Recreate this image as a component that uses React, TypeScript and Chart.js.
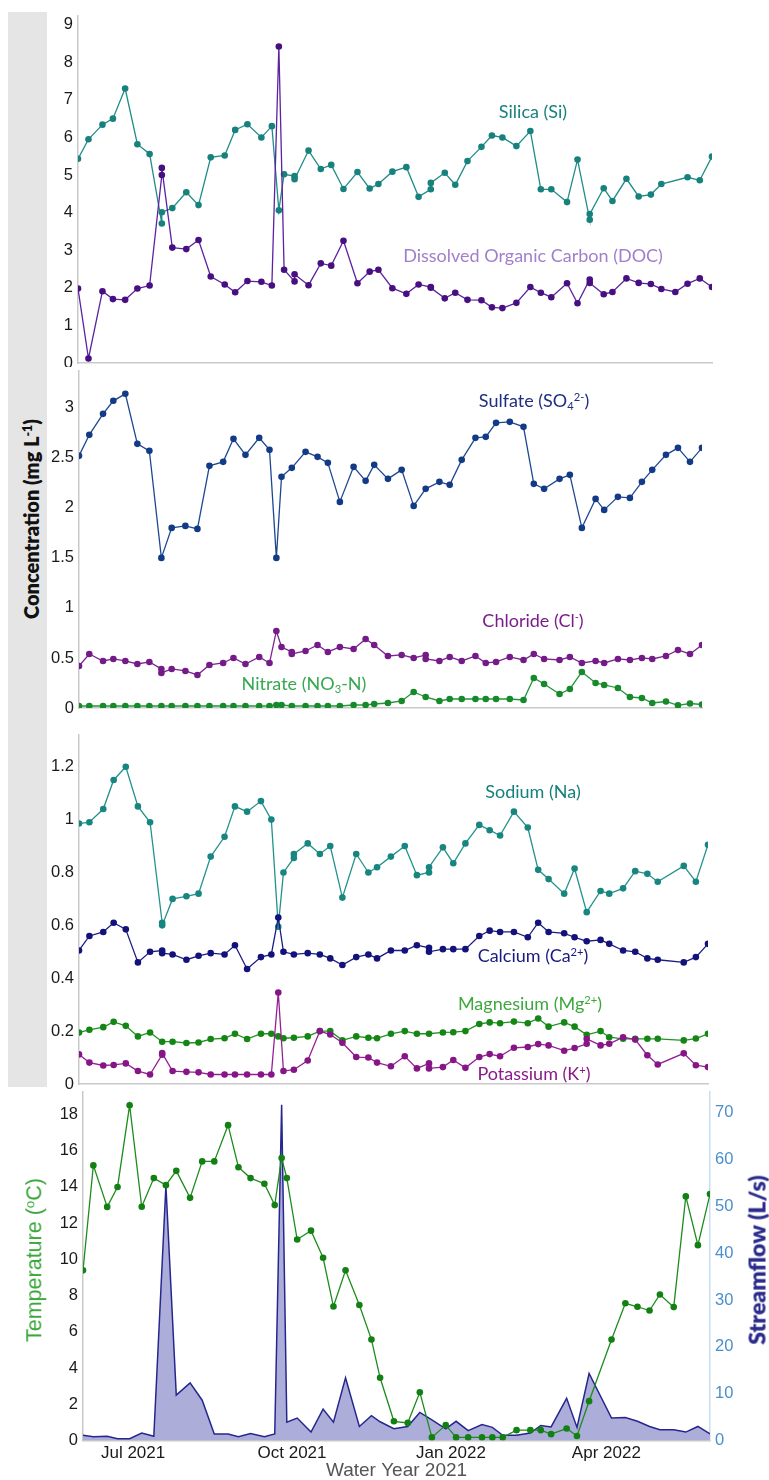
import React, { useEffect, useRef } from 'react';
import { Chart, registerables } from 'chart.js';

Chart.register(...registerables);

// ---------- shared sampling dates (days after 1 Jun 2021; repeated days = replicate samples) ----------
const sampleDays = [1, 7, 15, 21, 28, 35, 42, 49, 49, 55, 63, 70, 77, 85, 91, 98, 106, 112, 116, 119, 125, 125, 133, 140, 146, 153, 161, 168, 173, 181, 189, 196, 203, 203, 211, 217, 224, 232, 238, 244, 252, 260, 266, 272, 281, 287, 294, 294, 302, 307, 315, 322, 329, 335, 343, 350, 357, 364];

// ---------- panel 1 ----------
const silica = [5.43, 5.95, 6.34, 6.5, 7.3, 5.82, 5.56, 3.71, 4.01, 4.12, 4.54, 4.2, 5.47, 5.52, 6.2, 6.35, 6.0, 6.3, 4.06, 5.02, 4.97, 4.89, 5.65, 5.16, 5.27, 4.63, 5.08, 4.64, 4.76, 5.09, 5.21, 4.42, 4.62, 4.79, 5.06, 4.74, 5.37, 5.75, 6.05, 6.0, 5.77, 6.17, 4.62, 4.62, 4.28, 5.41, 3.81, 3.96, 4.65, 4.31, 4.9, 4.43, 4.48, 4.76, null, 4.94, 4.86, 5.49];
const doc = [1.98, 0.12, 1.91, 1.7, 1.68, 1.98, 2.06, 5.0, 5.19, 3.07, 3.03, 3.27, 2.3, 2.09, 1.88, 2.18, 2.16, 2.06, 8.42, 2.48, 2.17, 2.36, 2.07, 2.65, 2.59, 3.25, 2.12, 2.43, 2.48, 1.99, 1.84, 2.09, 2.02, 2.0, 1.72, 1.87, 1.68, 1.67, 1.48, 1.46, 1.6, 2.02, 1.87, 1.75, 2.12, 1.59, 2.22, 2.13, 1.83, 1.89, 2.25, 2.13, 2.1, 1.97, 1.89, 2.11, 2.25, 2.02];

// ---------- panel 2 ----------
const sulfate = [2.52, 2.73, 2.94, 3.07, 3.14, 2.64, 2.57, 1.5, null, 1.8, 1.82, 1.79, 2.42, 2.46, 2.69, 2.53, 2.7, 2.58, 1.5, 2.31, 2.4, null, 2.56, 2.51, 2.45, 2.06, 2.41, 2.27, 2.43, 2.29, 2.38, 2.02, 2.19, null, 2.26, 2.23, 2.48, 2.7, 2.71, 2.85, 2.86, 2.81, 2.24, 2.19, 2.29, 2.33, 1.8, null, 2.09, 1.98, 2.11, 2.1, 2.26, 2.38, 2.53, 2.6, 2.46, 2.6];
const chloride = [0.42, 0.54, 0.47, 0.49, 0.47, 0.44, 0.46, 0.39, 0.35, 0.39, 0.37, 0.33, 0.43, 0.45, 0.5, 0.44, 0.51, 0.45, 0.77, 0.61, 0.56, 0.54, 0.57, 0.63, 0.56, 0.61, 0.59, 0.69, 0.63, 0.52, 0.53, 0.5, 0.53, 0.49, 0.47, 0.51, 0.47, 0.52, 0.45, 0.46, 0.51, 0.48, 0.54, 0.49, 0.48, 0.51, 0.45, null, 0.47, 0.45, 0.49, 0.48, 0.5, 0.49, 0.52, 0.58, 0.54, 0.63];
const nitrate = [0.02, 0.02, 0.02, 0.02, 0.02, 0.02, 0.02, 0.02, null, 0.02, 0.02, 0.02, 0.02, 0.02, 0.02, 0.02, 0.02, 0.02, 0.03, 0.03, 0.02, null, 0.02, 0.02, 0.02, 0.02, 0.03, 0.03, 0.04, 0.05, 0.07, 0.16, 0.11, null, 0.07, 0.09, 0.09, 0.09, 0.09, 0.09, 0.09, 0.08, 0.3, 0.24, 0.14, 0.19, 0.36, null, 0.25, 0.23, 0.2, 0.11, 0.1, 0.05, 0.065, 0.026, 0.045, 0.035];

// ---------- panel 3 ----------
const sodium = [0.985, 0.99, 1.04, 1.15, 1.2, 1.05, 0.99, 0.61, 0.6, 0.7, 0.71, 0.72, 0.86, 0.935, 1.05, 1.03, 1.07, 1.0, 0.595, 0.8, 0.855, 0.87, 0.91, 0.87, 0.9, 0.705, 0.87, 0.8, 0.82, 0.86, 0.9, 0.79, 0.8, 0.82, 0.895, 0.835, 0.91, 0.98, 0.96, 0.94, 1.03, 0.97, 0.81, 0.775, 0.72, 0.815, 0.65, null, 0.73, 0.72, 0.74, 0.805, 0.795, 0.765, null, 0.825, 0.765, 0.905];
const calcium = [0.505, 0.56, 0.575, 0.61, 0.585, 0.46, 0.5, 0.505, 0.495, 0.49, 0.47, 0.485, 0.495, 0.49, 0.525, 0.435, 0.48, 0.49, 0.63, 0.5, 0.49, null, 0.495, 0.49, 0.475, 0.45, 0.48, 0.49, 0.475, 0.505, 0.505, 0.525, 0.515, 0.5, 0.51, 0.51, 0.51, 0.56, 0.58, 0.575, 0.575, 0.555, 0.61, 0.575, 0.57, 0.555, 0.54, null, 0.545, 0.53, 0.505, 0.5, 0.475, 0.47, null, 0.46, 0.48, 0.53];
const magnesium = [0.195, 0.205, 0.215, 0.235, 0.22, 0.18, 0.195, 0.16, null, 0.16, 0.155, 0.157, 0.17, 0.173, 0.19, 0.17, 0.19, 0.19, 0.18, 0.173, 0.175, null, 0.18, 0.2, 0.2, 0.165, 0.18, 0.175, 0.173, 0.19, 0.2, 0.19, 0.19, null, 0.195, 0.196, 0.2, 0.227, 0.233, 0.23, 0.236, 0.23, 0.248, 0.217, 0.233, 0.217, 0.186, null, 0.2, 0.177, 0.171, 0.171, 0.171, 0.171, null, 0.165, 0.172, 0.19];
const potassium = [0.112, 0.081, 0.07, 0.072, 0.078, 0.049, 0.036, 0.111, 0.117, 0.049, 0.046, 0.044, 0.036, 0.036, 0.036, 0.036, 0.036, 0.036, 0.346, 0.049, 0.054, null, 0.089, 0.2, 0.187, 0.156, 0.102, 0.1, 0.081, 0.067, 0.105, 0.059, 0.078, 0.059, 0.064, 0.091, 0.061, 0.102, 0.113, 0.105, 0.137, 0.14, 0.151, 0.146, 0.126, 0.136, 0.152, 0.171, 0.146, 0.152, 0.177, 0.168, 0.109, 0.074, null, 0.116, 0.071, 0.064];

// ---------- panel 4 ----------
const temperature = [9.39, 15.18, 12.89, 13.99, 18.5, 12.9, 14.48, 14.09, null, 14.88, 13.39, 15.4, 15.4, 17.4, 15.08, 14.48, 14.17, 12.99, 15.59, 14.48, 11.09, null, 11.58, 10.08, 7.39, 9.39, 7.48, 5.57, 3.46, 1.06, 0.97, 2.66, 0.17, null, 0.85, 0.17, 0.17, 0.17, 0.17, 0.17, 0.57, 0.57, 0.57, 0.35, 0.66, 0.25, 2.17, null, null, 5.57, 7.57, 7.38, 7.17, 8.06, 7.36, 13.47, 10.78, 13.6];
const streamflow = [1.1, 0.8, 0.9, 0.4, 0.4, 1.6, 0.9, 54.4, null, 9.7, 12.3, 8.6, 1.4, 1.4, 0.8, 1.5, 0.8, 1.4, 71.7, 3.9, 4.8, null, 1.8, 6.7, 3.9, 13.4, 3.0, 5.3, 4.0, 2.5, 3.0, 6.0, 4.4, null, 2.5, 4.1, 2.1, 3.4, 2.8, 1.1, 1.1, 1.6, 3.2, 2.9, 9.0, 2.8, 14.3, null, null, 4.8, 4.9, 4.1, 3.0, 2.3, 2.3, 1.8, 3.0, 1.4];

// ---------- ticks ----------
const ticksP1 = [0, 1, 2, 3, 4, 5, 6, 7, 8, 9];
const ticksP2 = [0, 0.5, 1, 1.5, 2, 2.5, 3];
const ticksP3 = [0, 0.2, 0.4, 0.6, 0.8, 1, 1.2];
const ticksTemp = [0, 2, 4, 6, 8, 10, 12, 14, 16, 18];
const ticksFlow = [0, 10, 20, 30, 40, 50, 60, 70];
const monthTickDays = [30, 122, 214, 304];
const monthTickLabels = ['Jul 2021', 'Oct 2021', 'Jan 2022', 'Apr 2022'];

const W = 769;
const TICK_FONT = "'Liberation Sans', Arial, Helvetica, sans-serif";
const LABEL_FONT = "Lato, 'Open Sans', sans-serif";
const AXIS_GREY = '#c9c9c9';

function pts(vals: (number | null)[]) {
  return sampleDays
    .map((d, i) => ({ x: d, y: vals[i] }))
    .filter((p) => p.y !== null && p.y !== undefined);
}

function lineDs(vals: (number | null)[], line: string, point: string, order: number) {
  return {
    type: 'line',
    data: pts(vals),
    borderColor: line,
    backgroundColor: point,
    pointBackgroundColor: point,
    pointBorderColor: point,
    pointBorderWidth: 0,
    pointRadius: 3.3,
    borderWidth: 1.3,
    tension: 0,
    fill: false,
    order,
  };
}

function yScale(ticks: number[], max: number, width: number, tickColor = '#1a1a1a', pos = 'left', borderColor = AXIS_GREY) {
  return {
    type: 'linear',
    position: pos,
    min: 0,
    max,
    grid: { display: false, drawTicks: false },
    border: { display: true, color: borderColor, width: 1.5 },
    ticks: {
      padding: 5,
      color: tickColor,
      font: { family: TICK_FONT, size: 16.5 },
      callback: (v: number) => String(v),
    },
    afterBuildTicks: (s: any) => {
      s.ticks = ticks.map((v) => ({ value: v }));
    },
    afterFit: (s: any) => {
      s.width = width;
      s.paddingTop = 0;
      s.paddingBottom = 0;
    },
  };
}

function hiddenX(height: number) {
  return {
    type: 'linear',
    min: 1,
    max: 364,
    grid: { display: false, drawTicks: false },
    ticks: { display: false },
    border: { display: true, color: AXIS_GREY, width: 1.5 },
    afterFit: (s: any) => {
      s.height = height;
      s.paddingLeft = 0;
      s.paddingRight = 0;
    },
  };
}

function baseOptions(right: number, scales: any) {
  return {
    animation: false,
    responsive: false,
    maintainAspectRatio: false,
    events: [],
    layout: { padding: { left: 0, right, top: 0, bottom: 0 } },
    plugins: { legend: { display: false }, tooltip: { enabled: false } },
    scales,
  };
}

const panel1 = () => ({
  type: 'line',
  data: {
    datasets: [
      lineDs(silica, '#1f8c87', '#17827d', 2),
      lineDs(doc, '#5c22a0', '#470f80', 1),
    ],
  },
  options: baseOptions(W - 712, { x: hiddenX(3), y: yScale(ticksP1, 9.23, 78) }),
});

const panel2 = () => ({
  type: 'line',
  data: {
    datasets: [
      lineDs(sulfate, '#1f4892', '#133a86', 3),
      lineDs(chloride, '#7d2492', '#741b88', 2),
      lineDs(nitrate, '#22963a', '#16892b', 1),
    ],
  },
  options: baseOptions(W - 702, { x: hiddenX(12), y: yScale(ticksP2, 3.368, 79) }),
});

const panel3 = () => ({
  type: 'line',
  data: {
    datasets: [
      lineDs(sodium, '#21928c', '#178680', 4),
      lineDs(calcium, '#1c1c84', '#12127a', 3),
      lineDs(magnesium, '#219221', '#158615', 2),
      lineDs(potassium, '#942094', '#861686', 1),
    ],
  },
  options: baseOptions(W - 708, { x: hiddenX(8), y: yScale(ticksP3, 1.32, 79) }),
});

const panel4 = () => ({
  type: 'line',
  data: {
    datasets: [
      {
        ...lineDs(temperature, '#1c8c1c', '#138013', 1),
        yAxisID: 'y',
      },
      {
        type: 'line',
        data: pts(streamflow),
        yAxisID: 'y2',
        borderColor: '#26268f',
        backgroundColor: '#acaed9',
        borderWidth: 1.5,
        pointRadius: 0,
        tension: 0,
        fill: 'origin',
        order: 2,
      },
    ],
  },
  options: baseOptions(0, {
    x: {
      type: 'linear',
      min: 1,
      max: 364,
      grid: { display: false, drawTicks: false },
      border: { display: true, color: AXIS_GREY, width: 1.5 },
      ticks: {
        padding: 3,
        color: '#1a1a1a',
        autoSkip: false,
        maxRotation: 0,
        font: { family: TICK_FONT, size: 17 },
        callback: (v: number) => {
          const i = monthTickDays.indexOf(v);
          return i >= 0 ? monthTickLabels[i] : '';
        },
      },
      afterBuildTicks: (s: any) => {
        s.ticks = monthTickDays.map((v) => ({ value: v }));
      },
      title: {
        display: true,
        text: 'Water Year 2021',
        color: '#555',
        font: { family: TICK_FONT, size: 19, lineHeight: 1 },
        padding: { top: 0, bottom: 0 },
      },
      afterFit: (s: any) => {
        s.height = 39.5;
        s.paddingLeft = 0;
        s.paddingRight = 0;
      },
    },
    y: yScale(ticksTemp, 19.23, 83),
    y2: yScale(ticksFlow, 74.4, 59, '#4a8fcc', 'right', '#c8def0'),
  }),
});

function PanelCanvas({ top, height, build }: { top: number; height: number; build: () => any }) {
  const ref = useRef<HTMLCanvasElement | null>(null);
  useEffect(() => {
    if (!ref.current) return;
    const chart = new Chart(ref.current, build());
    return () => chart.destroy();
  }, []);
  return (
    <canvas
      ref={ref}
      width={W}
      height={height}
      style={{ position: 'absolute', left: 0, top, width: W, height, display: 'block' }}
    />
  );
}

function Label({ x, y, color, size = 18, weight = 400, family = LABEL_FONT, rotate = false, children }: any) {
  return (
    <div
      style={{
        position: 'absolute',
        left: x,
        top: y,
        transform: `translate(-50%, -50%)${rotate ? ' rotate(-90deg)' : ''}`,
        color,
        fontFamily: family,
        fontSize: size,
        fontWeight: weight,
        whiteSpace: 'nowrap',
        lineHeight: 1,
      }}
    >
      {children}
    </div>
  );
}

const supStyle: React.CSSProperties = { fontSize: '0.62em', verticalAlign: '0.55em', lineHeight: 0 };
const subStyle: React.CSSProperties = { fontSize: '0.62em', verticalAlign: '-0.25em', lineHeight: 0 };

export default function App() {
  return (
    <div style={{ position: 'absolute', left: 0, top: 0, width: W, height: 1480, overflow: 'hidden', background: '#fff' }}>
      <div style={{ position: 'absolute', left: 8, top: 12, width: 39, height: 1075, background: '#e5e5e5' }} />
      <Label x={31} y={519} color="#111" size={20} weight={800} rotate>
        Concentration (mg L<span style={supStyle}>-1</span>)
      </Label>

      <PanelCanvas top={12} height={355} build={panel1} />
      <PanelCanvas top={367} height={353} build={panel2} />
      <PanelCanvas top={731} height={361} build={panel3} />
      <PanelCanvas top={1088} height={392} build={panel4} />

      <Label x={533} y={111} color="#17827e">Silica (Si)</Label>
      <Label x={533} y={255} color="#a27fca">Dissolved Organic Carbon (DOC)</Label>

      <Label x={534} y={400} color="#1e2f80">
        Sulfate (SO<span style={subStyle}>4</span><span style={supStyle}>2-</span>)
      </Label>
      <Label x={533} y={620} color="#7a1d8b">
        Chloride (Cl<span style={supStyle}>-</span>)
      </Label>
      <Label x={304} y={683} color="#36a850">
        Nitrate (NO<span style={subStyle}>3</span>-N)
      </Label>

      <Label x={533} y={791} color="#16807c">Sodium (Na)</Label>
      <Label x={533} y={955} color="#1a1a80">
        Calcium (Ca<span style={supStyle}>2+</span>)
      </Label>
      <Label x={530} y={1003} color="#3ea83e">
        Magnesium (Mg<span style={supStyle}>2+</span>)
      </Label>
      <Label x={534} y={1073} color="#8a1a8a">
        Potassium (K<span style={supStyle}>+</span>)
      </Label>

      <Label x={35} y={1260} color="#3aa63a" size={21.5} family={TICK_FONT} rotate>
        Temperature (<span style={supStyle}>o</span>C)
      </Label>
      <Label x={757} y={1260} color="#2b2b8c" size={23} weight={800} rotate>
        Streamflow (L/s)
      </Label>
    </div>
  );
}
